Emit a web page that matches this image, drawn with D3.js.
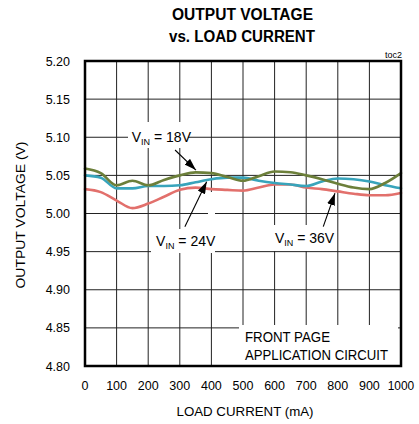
<!DOCTYPE html>
<html>
<head>
<meta charset="utf-8">
<script src="https://cdn.jsdelivr.net/npm/d3@7"></script>
<style>
  body { margin: 0; background: #fff; }
  text { font-family: "Liberation Sans", Arial, sans-serif; fill: #000; }
</style>
</head>
<body>
<script>
// load current (mA), sampled every 50 mA
var loadCurrent = [0, 50, 100, 150, 200, 250, 300, 350, 400, 450, 500,
                   550, 600, 650, 700, 750, 800, 850, 900, 950, 1000];

// output voltage (V) for each input voltage
var vin18 = [5.059, 5.053, 5.037, 5.043, 5.037, 5.044, 5.050, 5.054, 5.053, 5.048, 5.043,
             5.049, 5.055, 5.054, 5.050, 5.045, 5.039, 5.034, 5.032, 5.040, 5.053];
var vin24 = [5.050, 5.047, 5.033, 5.033, 5.036, 5.036, 5.037, 5.041, 5.045, 5.047, 5.047,
             5.043, 5.040, 5.038, 5.036, 5.042, 5.046, 5.045, 5.042, 5.037, 5.033];
var vin36 = [5.032, 5.028, 5.017, 5.007, 5.013, 5.022, 5.031, 5.034, 5.032, 5.031, 5.030,
             5.034, 5.038, 5.038, 5.034, 5.032, 5.029, 5.026, 5.024, 5.024, 5.027];

var xTicks = [0, 100, 200, 300, 400, 500, 600, 700, 800, 900, 1000];
var yTicks = [4.80, 4.85, 4.90, 4.95, 5.00, 5.05, 5.10, 5.15, 5.20];

var series = [
    { name: "36V", values: vin36, color: "#e2706c" },
    { name: "24V", values: vin24, color: "#38a4bb" },
    { name: "18V", values: vin18, color: "#6c7f3a" }
];

var width = 419, height = 424;
var plotLeft = 85, plotRight = 401, plotTop = 61, plotBottom = 366;

var svg = d3.select("body").append("svg")
    .attr("width", width)
    .attr("height", height);

var x = d3.scaleLinear().domain([0, 1000]).range([plotLeft, plotRight]);
var y = d3.scaleLinear().domain([4.80, 5.20]).range([plotBottom, plotTop]);

// grid
svg.append("g")
    .selectAll("line")
    .data(xTicks.slice(1, -1))
    .enter().append("line")
        .attr("x1", function (d) { return x(d); })
        .attr("x2", function (d) { return x(d); })
        .attr("y1", plotTop)
        .attr("y2", plotBottom)
        .attr("stroke", "#222")
        .attr("stroke-width", 1);

svg.append("g")
    .selectAll("line")
    .data(yTicks.slice(1, -1))
    .enter().append("line")
        .attr("x1", plotLeft)
        .attr("x2", plotRight)
        .attr("y1", function (d) { return y(d); })
        .attr("y2", function (d) { return y(d); })
        .attr("stroke", "#222")
        .attr("stroke-width", 1);

// white patches behind labels (gridlines broken there)
var patches = [
    [128, 122, 60, 26],
    [151, 229, 64, 24],
    [208, 192, 7, 37],
    [271, 225, 63, 26],
    [239, 325, 159, 41]
];
svg.append("g")
    .selectAll("rect")
    .data(patches)
    .enter().append("rect")
        .attr("x", function (d) { return d[0]; })
        .attr("y", function (d) { return d[1]; })
        .attr("width", function (d) { return d[2]; })
        .attr("height", function (d) { return d[3]; })
        .attr("fill", "#fff");

// curves
var line = d3.line()
    .x(function (d, i) { return x(loadCurrent[i]); })
    .y(function (d) { return y(d); })
    .curve(d3.curveMonotoneX);

svg.append("g")
    .selectAll("path")
    .data(series)
    .enter().append("path")
        .attr("d", function (d) { return line(d.values); })
        .attr("fill", "none")
        .attr("stroke", function (d) { return d.color; })
        .attr("stroke-width", 2.6)
        .attr("stroke-linecap", "round");

// frame
svg.append("rect")
    .attr("x", plotLeft)
    .attr("y", plotTop)
    .attr("width", plotRight - plotLeft)
    .attr("height", plotBottom - plotTop)
    .attr("fill", "none")
    .attr("stroke", "#000")
    .attr("stroke-width", 2.5);

// tick labels
svg.append("g")
    .selectAll("text")
    .data(yTicks)
    .enter().append("text")
        .attr("x", 70)
        .attr("y", function (d) { return y(d) + 4.5; })
        .attr("text-anchor", "end")
        .attr("font-size", 12.5)
        .text(function (d) { return d.toFixed(2); });

svg.append("g")
    .selectAll("text")
    .data(xTicks)
    .enter().append("text")
        .attr("x", function (d) { return x(d); })
        .attr("y", 390)
        .attr("text-anchor", "middle")
        .attr("font-size", 12.5)
        .attr("textLength", function (d) { return d == 1000 ? 26.5 : null; })
        .attr("lengthAdjust", "spacingAndGlyphs")
        .text(function (d) { return d; });

// titles
svg.append("text")
    .attr("x", 242.5).attr("y", 20)
    .attr("text-anchor", "middle")
    .attr("font-size", 16).attr("font-weight", "bold")
    .attr("textLength", 141).attr("lengthAdjust", "spacingAndGlyphs")
    .text("OUTPUT VOLTAGE");

svg.append("text")
    .attr("x", 242).attr("y", 41.5)
    .attr("text-anchor", "middle")
    .attr("font-size", 16).attr("font-weight", "bold")
    .attr("textLength", 146).attr("lengthAdjust", "spacingAndGlyphs")
    .text("vs. LOAD CURRENT");

svg.append("text")
    .attr("x", 402).attr("y", 57.5)
    .attr("text-anchor", "end")
    .attr("font-size", 9)
    .text("toc2");

svg.append("text")
    .attr("x", 245).attr("y", 415.5)
    .attr("text-anchor", "middle")
    .attr("font-size", 13.5)
    .attr("textLength", 137).attr("lengthAdjust", "spacingAndGlyphs")
    .text("LOAD CURRENT (mA)");

svg.append("text")
    .attr("transform", "translate(25,215) rotate(-90)")
    .attr("text-anchor", "middle")
    .attr("font-size", 13.5)
    .attr("textLength", 147).attr("lengthAdjust", "spacingAndGlyphs")
    .text("OUTPUT  VOLTAGE  (V)");

svg.append("text")
    .attr("x", 245).attr("y", 341.5)
    .attr("font-size", 14.5)
    .attr("textLength", 85).attr("lengthAdjust", "spacingAndGlyphs")
    .text("FRONT PAGE");

svg.append("text")
    .attr("x", 245).attr("y", 360)
    .attr("font-size", 14.5)
    .attr("textLength", 143).attr("lengthAdjust", "spacingAndGlyphs")
    .text("APPLICATION CIRCUIT");

// V_IN labels, placed in data units
var labels = [
    { mA: 148, v: 5.094, val: "18V" },
    { mA: 225, v: 4.958, val: "24V" },
    { mA: 601, v: 4.961, val: "36V" }
];

var lab = svg.append("g")
    .selectAll("text")
    .data(labels)
    .enter().append("text")
        .attr("x", function (d) { return x(d.mA); })
        .attr("y", function (d) { return y(d.v); })
        .attr("font-size", 14);

lab.append("tspan").text("V");
lab.append("tspan").attr("font-size", 9).attr("dy", 3).text("IN");
lab.append("tspan").attr("dy", -3).text(function (d) { return " = " + d.val; });

// arrows
var arrows = [
    { from: [285, 5.0833], to: [351, 5.057] },
    { from: [316, 4.9827], to: [385, 5.0417] },
    { from: [754, 4.9827], to: [791, 5.0265] }
];

svg.append("defs").append("marker")
    .attr("id", "head")
    .attr("viewBox", "0 0 12 8")
    .attr("refX", 12).attr("refY", 4)
    .attr("markerWidth", 12).attr("markerHeight", 8)
    .attr("markerUnits", "userSpaceOnUse")
    .attr("orient", "auto")
  .append("path")
    .attr("d", "M0 0 L12 4 L0 8 Z")
    .attr("fill", "#000");

svg.append("g")
    .selectAll("line")
    .data(arrows)
    .enter().append("line")
        .attr("x1", function (d) { return x(d.from[0]); })
        .attr("y1", function (d) { return y(d.from[1]); })
        .attr("x2", function (d) { return x(d.to[0]); })
        .attr("y2", function (d) { return y(d.to[1]); })
        .attr("stroke", "#000")
        .attr("stroke-width", 1.1)
        .attr("marker-end", "url(#head)");
</script>
</body>
</html>
